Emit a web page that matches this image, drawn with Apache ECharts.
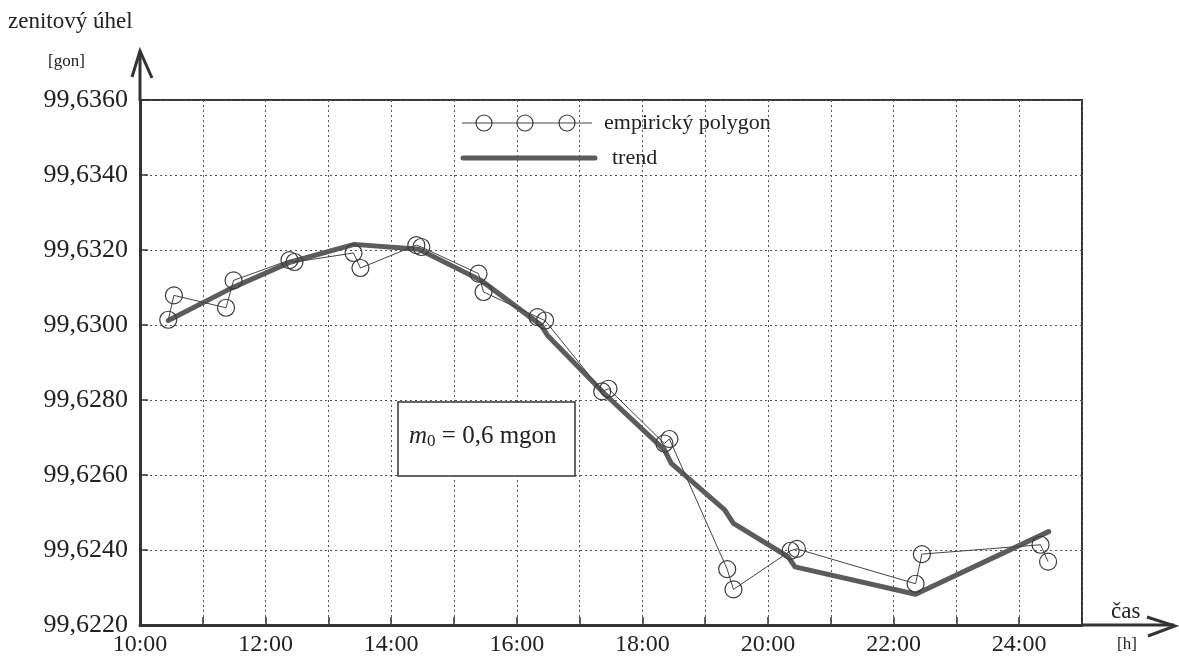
<!DOCTYPE html>
<html>
<head>
<meta charset="utf-8">
<script src="https://cdn.jsdelivr.net/npm/echarts@6/dist/echarts.min.js"></script>
<style>html,body{margin:0;padding:0;background:#fff;}#c{width:1179px;height:666px;}</style>
</head>
<body>
<div id="c"></div>
<script>
// time in decimal hours, zenith angle in gon
const empTimes = [10.45,10.54,11.37,11.49,12.38,12.46,13.40,13.51,14.40,14.48,15.39,15.47,16.33,16.45,17.36,17.46,18.35,18.43,19.35,19.45,20.36,20.46,22.35,22.45,24.34,24.46];
const empValues = [99.63014,99.63079,99.63046,99.63119,99.63173,99.63168,99.63192,99.63152,99.63213,99.63208,99.63137,99.63088,99.63021,99.63012,99.62823,99.62830,99.62684,99.62696,99.62349,99.62295,99.62398,99.62403,99.62310,99.62389,99.62414,99.62369];
const trendTimes = [10.45,11.44,12.40,13.41,14.44,15.43,16.39,16.49,17.40,18.35,18.46,19.31,19.45,20.32,20.43,22.35,24.47];
const trendValues = [99.63012,99.63097,99.63168,99.63215,99.63202,99.63119,99.62999,99.62972,99.62816,99.62667,99.62631,99.62507,99.62471,99.62382,99.62355,99.62282,99.62449];
const xLabelHours = [10,12,14,16,18,20,22,24];
const legendNames = ['empirický polygon','trend'];
const yTitle = 'zenitový úhel', yUnit = '[gon]', xTitle = 'čas', xUnit = '[h]';

const FONT = '"Liberation Serif", "DejaVu Serif", serif';
const ink = '#333';
const chart = echarts.init(document.getElementById('c'));
chart.setOption({
  animation: false,
  backgroundColor: '#fff',
  grid: {left: 140, right: 97, top: 100, bottom: 41, show: true, borderColor: ink, borderWidth: 2, backgroundColor: 'transparent'},
  xAxis: {
    type: 'value', min: 10, max: 25, interval: 1,
    axisLine: {lineStyle: {color: ink, width: 3}},
    axisTick: {inside: true, length: 8, lineStyle: {color: ink, width: 1.5}},
    axisLabel: {
      fontFamily: FONT, fontSize: 24, color: '#222', margin: 8,
      formatter: v => xLabelHours.indexOf(Math.round(v)) >= 0 ? Math.round(v) + ':00' : ''
    },
    splitLine: {show: true, lineStyle: {color: '#555', width: 1, type: [2, 3]}}
  },
  yAxis: {
    type: 'value', min: 99.622, max: 99.636, interval: 0.002,
    axisLine: {show: true, lineStyle: {color: ink, width: 3}},
    axisTick: {show: true, inside: true, length: 8, lineStyle: {color: ink, width: 1.5}},
    axisLabel: {
      fontFamily: FONT, fontSize: 26, color: '#222', margin: 12,
      formatter: v => v.toFixed(4).replace('.', ',')
    },
    splitLine: {show: true, lineStyle: {color: '#555', width: 1, type: [2, 3]}}
  },
  series: [
    {
      name: legendNames[1], type: 'line', z: 2,
      data: trendTimes.map((t, i) => [t, trendValues[i]]),
      showSymbol: false, symbol: 'none',
      lineStyle: {color: '#5c5c5c', width: 5, join: 'round', cap: 'round'}
    },
    {
      name: legendNames[0], type: 'line', z: 3,
      data: empTimes.map((t, i) => [t, empValues[i]]),
      symbol: 'circle', symbolSize: 17,
      itemStyle: {color: 'rgba(255,255,255,0)', borderColor: '#3a3a3a', borderWidth: 1.2},
      lineStyle: {color: '#444', width: 1}
    }
  ],
  graphic: [
    // axis arrow extensions
    {type: 'polyline', shape: {points: [[140, 101], [140, 52]]}, style: {stroke: ink, lineWidth: 3}},
    {type: 'polyline', shape: {points: [[132, 77], [140, 51], [152, 78]]}, style: {stroke: ink, lineWidth: 3, fill: 'none'}},
    {type: 'polyline', shape: {points: [[1081, 625], [1174, 625]]}, style: {stroke: ink, lineWidth: 3}},
    {type: 'polyline', shape: {points: [[1147, 617], [1175, 626], [1148, 636]]}, style: {stroke: ink, lineWidth: 3, fill: 'none'}},
    // axis titles
    {type: 'text', style: {text: yTitle, x: 8, y: 22, font: '23px ' + FONT, fill: '#222', textAlign: 'left', textVerticalAlign: 'middle'}},
    {type: 'text', style: {text: yUnit, x: 48, y: 62, font: '17px ' + FONT, fill: '#222', textAlign: 'left', textVerticalAlign: 'middle'}},
    {type: 'text', style: {text: xTitle, x: 1111, y: 612, font: '23px ' + FONT, fill: '#222', textAlign: 'left', textVerticalAlign: 'middle'}},
    {type: 'text', style: {text: xUnit, x: 1117, y: 645, font: '17px ' + FONT, fill: '#222', textAlign: 'left', textVerticalAlign: 'middle'}},
    // legend
    {type: 'line', shape: {x1: 462, y1: 123, x2: 592, y2: 123}, style: {stroke: '#444', lineWidth: 1}},
    {type: 'circle', shape: {cx: 484, cy: 123, r: 8}, style: {stroke: '#3a3a3a', fill: 'none', lineWidth: 1.2}},
    {type: 'circle', shape: {cx: 525, cy: 123, r: 8}, style: {stroke: '#3a3a3a', fill: 'none', lineWidth: 1.2}},
    {type: 'circle', shape: {cx: 567, cy: 123, r: 8}, style: {stroke: '#3a3a3a', fill: 'none', lineWidth: 1.2}},
    {type: 'text', style: {text: legendNames[0], x: 604, y: 123, font: '22px ' + FONT, fill: '#222', textAlign: 'left', textVerticalAlign: 'middle'}},
    {type: 'line', shape: {x1: 463, y1: 158, x2: 595, y2: 158}, style: {stroke: '#5c5c5c', lineWidth: 5, lineCap: 'round'}},
    {type: 'text', style: {text: legendNames[1], x: 612, y: 158, font: '22px ' + FONT, fill: '#222', textAlign: 'left', textVerticalAlign: 'middle'}},
    // m0 box
    {type: 'rect', shape: {x: 398, y: 402, width: 177, height: 74}, style: {stroke: ink, fill: '#fff', lineWidth: 1.5}, z: 10},
    {type: 'text', z: 11, style: {
      x: 409, y: 436, textAlign: 'left', textVerticalAlign: 'middle',
      text: '{m|m}{s|0}{n| = 0,6 mgon}',
      rich: {
        m: {fontFamily: FONT, fontSize: 25, fontStyle: 'italic', fill: '#222', color: '#222'},
        s: {fontFamily: FONT, fontSize: 17, fill: '#222', color: '#222', verticalAlign: 'bottom', padding: [12, 0, 0, 0]},
        n: {fontFamily: FONT, fontSize: 25, fill: '#222', color: '#222'}
      }
    }}
  ]
});
</script>
</body>
</html>
